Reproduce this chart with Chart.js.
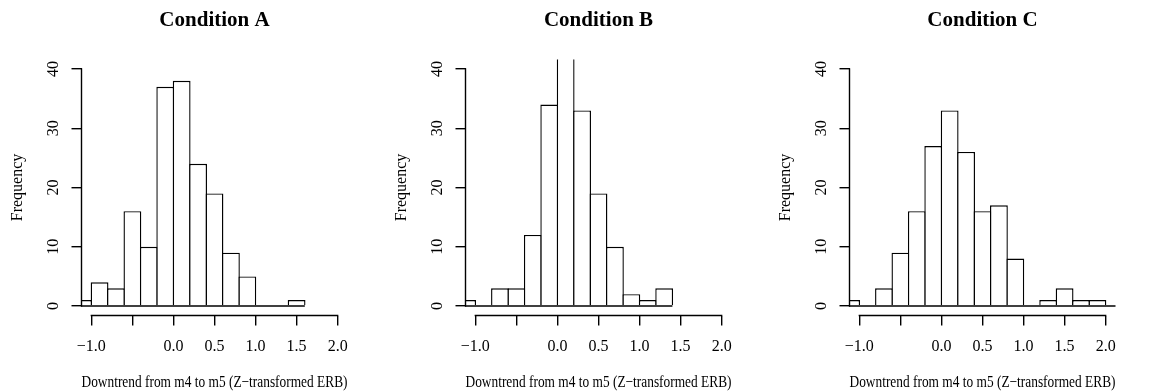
<!DOCTYPE html>
<html>
<head>
<meta charset="utf-8">
<script src="https://cdn.jsdelivr.net/npm/chart.js@4.4.1/dist/chart.umd.min.js"></script>
<style>
  html, body { margin: 0; padding: 0; background: #ffffff; }
  body { width: 1161px; height: 392px; position: relative; overflow: hidden; }
  .panel { position: absolute; top: 0; width: 388px; height: 392px; }
</style>
</head>
<body>
<div class="panel" style="left:0px"><canvas id="hist-a" width="388" height="392"></canvas></div>
<div class="panel" style="left:384px"><canvas id="hist-b" width="388" height="392"></canvas></div>
<div class="panel" style="left:768px"><canvas id="hist-c" width="388" height="392"></canvas></div>
<script>
// histogram breaks (width 0.2)
const bin_edges = [-1.2, -1.0, -0.8, -0.6, -0.4, -0.2, 0.0, 0.2, 0.4, 0.6, 0.8, 1.0, 1.2, 1.4, 1.6, 1.8, 2.0, 2.2];

// counts per bin, from the first break on
const freq_a = [1, 4, 3, 16, 10, 37, 38, 24, 19, 9, 5, 0, 0, 1];
const freq_b = [1, 0, 3, 3, 12, 34, 46, 33, 19, 10, 2, 1, 3];
const freq_c = [1, 0, 3, 9, 16, 27, 33, 26, 16, 17, 8, 0, 1, 3, 1, 1, 0];

const titles = ["Condition A", "Condition B", "Condition C"];
const x_label = "Downtrend from m4 to m5 (Z\u2212transformed ERB)";
const y_label = "Frequency";

const x_ticks = [-1.0, -0.5, 0.0, 0.5, 1.0, 1.5, 2.0];
const x_tick_labels = ["\u22121.0", "", "0.0", "0.5", "1.0", "1.5", "2.0"];
const y_ticks = [0, 10, 20, 30, 40];

// plot limits (R adds 4% on each side)
const x_lim = [-1.0, 2.0];
const y_lim = [0, 40];

const LW = 1.4;
Chart.defaults.font.family = "'Liberation Serif', 'Times New Roman', serif";
Chart.defaults.color = "#000000";

// R style axis lines: only from first to last tick
const rAxes = {
  id: "rAxes",
  afterDatasetsDraw(chart) {
    const ctx = chart.ctx;
    const xs = chart.scales.x;
    const ys = chart.scales.y;
    const area = chart.chartArea;
    ctx.save();
    ctx.strokeStyle = "#000000";
    ctx.lineWidth = LW;
    ctx.lineCap = "square";
    ctx.beginPath();
    ctx.moveTo(area.left, ys.getPixelForValue(y_ticks[0]));
    ctx.lineTo(area.left, ys.getPixelForValue(y_ticks[y_ticks.length - 1]));
    ctx.moveTo(xs.getPixelForValue(x_ticks[0]), area.bottom);
    ctx.lineTo(xs.getPixelForValue(x_ticks[x_ticks.length - 1]), area.bottom);
    ctx.stroke();
    ctx.restore();
  }
};

function drawHist(canvas_id, title, freq) {
  const bars = [];
  freq.forEach((v, i) => {
    bars.push({ x: (bin_edges[i] + bin_edges[i + 1]) / 2, y: v });
  });
  // bottom line of the histogram (also under the empty bins)
  const base = [
    { x: bin_edges[0], y: 0 },
    { x: bin_edges[freq.length], y: 0 }
  ];

  const xpad = (x_lim[1] - x_lim[0]) * 0.04;
  const ypad = (y_lim[1] - y_lim[0]) * 0.04;

  new Chart(document.getElementById(canvas_id), {
    type: "bar",
    data: {
      datasets: [
        {
          type: "bar",
          order: 1,
          data: bars,
          backgroundColor: "#FFFFFF",
          borderColor: "#000000",
          borderWidth: LW,
          borderSkipped: "start",
          barPercentage: 1.085,
          categoryPercentage: 1,
          clip: 0
        },
        {
          type: "line",
          order: 0,
          data: base,
          borderColor: "#000000",
          borderWidth: LW,
          pointRadius: 0,
          fill: false,
          clip: 0
        }
      ]
    },
    options: {
      responsive: false,
      animation: false,
      events: [],
      layout: {
        padding: { left: 0, right: 40.5, top: 0, bottom: 0 }
      },
      scales: {
        x: {
          type: "linear",
          min: x_lim[0] - xpad,
          max: x_lim[1] + xpad,
          offset: false,
          afterBuildTicks: (s) => { s.ticks = x_ticks.map((v) => ({ value: v })); },
          afterFit: (s) => { s.height = 76.5; },
          border: { display: false },
          grid: { offset: false, drawOnChartArea: false, drawTicks: true, tickLength: 10, color: "#000000", lineWidth: LW },
          ticks: {
            autoSkip: false,
            minRotation: 0,
            maxRotation: 0,
            padding: 11.5,
            color: "#000000",
            font: { size: 16 },
            callback: (v, i) => x_tick_labels[i]
          },
          title: {
            display: true,
            text: x_label,
            color: "#000000",
            font: { size: 17, lineHeight: 1.0 },
            padding: { top: 0, bottom: 0.5 }
          }
        },
        y: {
          type: "linear",
          min: y_lim[0] - ypad,
          max: y_lim[1] + ypad,
          afterBuildTicks: (s) => { s.ticks = y_ticks.map((v) => ({ value: v })); },
          afterFit: (s) => { s.width = 81.5; },
          border: { display: false },
          grid: { drawOnChartArea: false, drawTicks: true, tickLength: 10, color: "#000000", lineWidth: LW },
          ticks: {
            minRotation: 90,
            maxRotation: 90,
            crossAlign: "center",
            padding: 9.5,
            color: "#000000",
            font: { size: 16 },
            callback: (v) => String(v)
          },
          title: {
            display: true,
            text: y_label,
            color: "#000000",
            font: { size: 16 },
            padding: { top: 8.2, bottom: 0 }
          }
        }
      },
      plugins: {
        legend: { display: false },
        tooltip: { enabled: false },
        title: {
          display: true,
          text: title,
          fullSize: false,
          color: "#000000",
          font: { size: 21, weight: "bold" },
          padding: { top: 8.2, bottom: 26.1 }
        }
      }
    },
    plugins: [rAxes]
  });
}

drawHist("hist-a", titles[0], freq_a);
drawHist("hist-b", titles[1], freq_b);
drawHist("hist-c", titles[2], freq_c);
</script>
</body>
</html>
